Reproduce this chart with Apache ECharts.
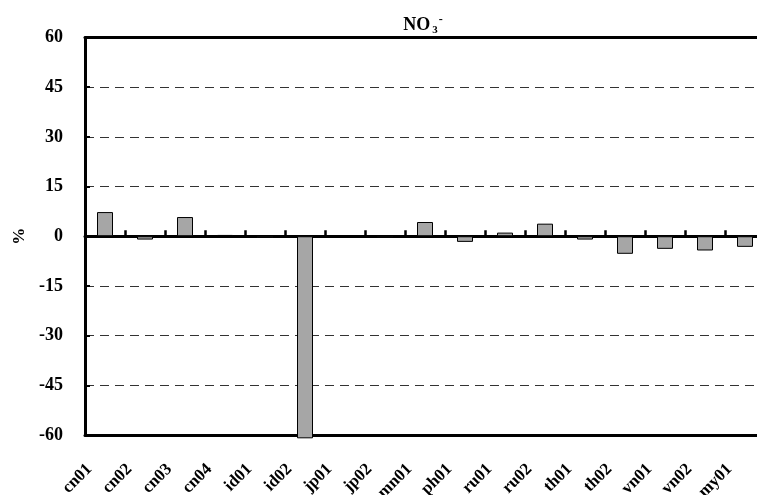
<!DOCTYPE html>
<html>
<head>
<meta charset="utf-8">
<script src="https://cdn.jsdelivr.net/npm/echarts@6/dist/echarts.min.js"></script>
<style>
  html, body { margin: 0; padding: 0; background: #fff; }
  #chart { width: 757px; height: 495px; }
</style>
</head>
<body>
<div id="chart"></div>
<script>
// Sites along the x axis
const sites = ['cn01', 'cn02', 'cn03', 'cn04', 'id01', 'id02', 'jp01', 'jp02', 'mn01',
               'ph01', 'ru01', 'ru02', 'th01', 'th02', 'vn01', 'vn02', 'my01'];
// NO3- deviation (%) per site
const deviation = [7.3, -1.0, 5.8, 0.4, -0.5, -61, 0, -0.4, 4.3,
                   -1.7, 1.1, 3.8, -1.0, -5.3, -3.8, -4.3, -3.2];
// Y-axis range and step
const yMin = -60, yMax = 60, yStep = 15;

const serif = '"Liberation Serif", "Times New Roman", serif';
const plot = { left: 85, top: 37.5, width: 680, height: 397.5 };
// pixel row of the zero line inside the plot
const zeroY = plot.top + plot.height * yMax / (yMax - yMin);
const tickLen = 6;

const chart = echarts.init(document.getElementById('chart'));

chart.setOption({
  animation: false,
  backgroundColor: '#ffffff',
  title: {
    text: 'NO{sub|3}{sup|-}',
    left: 418, top: 9, textAlign: 'center',
    textStyle: {
      fontFamily: serif, fontWeight: 'bold', fontSize: 18, color: '#000',
      rich: {
        sub: { fontFamily: serif, fontWeight: 'bold', fontSize: 11, color: '#000', verticalAlign: 'bottom', padding: [10, 1, 0, 2] },
        sup: { fontFamily: serif, fontWeight: 'bold', fontSize: 12, color: '#000', verticalAlign: 'top', padding: [0, 0, 10, 0] }
      }
    }
  },
  grid: [
    Object.assign({ containLabel: false, outerBoundsMode: 'none' }, plot),
    // thin band sitting on the zero line: carries the zero line and its ticks
    { left: plot.left, width: plot.width, top: zeroY - tickLen, height: tickLen, containLabel: false, outerBoundsMode: 'none' }
  ],
  xAxis: [
    {
      type: 'category', data: sites, position: 'bottom', gridIndex: 0,
      axisLine: { onZero: false, lineStyle: { color: '#000', width: 3 } },
      axisTick: { show: false },
      axisLabel: {
        rotate: 45, margin: 16, interval: 0, padding: [0, 22, 0, 0],
        fontFamily: serif, fontWeight: 'bold', fontSize: 17, color: '#000'
      },
      splitLine: { show: false }
    },
    {
      type: 'category', data: sites, position: 'top', gridIndex: 0,
      axisLine: { onZero: false, lineStyle: { color: '#000', width: 3 } },
      axisTick: { show: false },
      axisLabel: { show: false },
      splitLine: { show: false }
    },
    {
      type: 'category', data: sites, position: 'bottom', gridIndex: 1,
      axisLine: { onZero: false, lineStyle: { color: '#000', width: 3 } },
      axisTick: { show: true, inside: true, interval: 0, length: tickLen, lineStyle: { color: '#000', width: 2.5 } },
      axisLabel: { show: false },
      splitLine: { show: false }
    }
  ],
  yAxis: [
    {
      type: 'value', min: yMin, max: yMax, interval: yStep, gridIndex: 0,
      name: '%', nameLocation: 'middle', nameGap: 57, nameRotate: 90,
      nameTextStyle: { fontFamily: serif, fontWeight: 'bold', fontSize: 17, color: '#000' },
      axisLine: { show: true, onZero: false, lineStyle: { color: '#000', width: 3 } },
      axisTick: { show: true, inside: true, length: 5, lineStyle: { color: '#000', width: 2 } },
      axisLabel: { margin: 22, fontFamily: serif, fontWeight: 'bold', fontSize: 18, color: '#000' },
      splitLine: { show: true, lineStyle: { color: '#333', width: 1, type: [9, 6] } }
    },
    {
      type: 'value', min: 0, max: 1, gridIndex: 1, show: false
    }
  ],
  series: [{
    type: 'bar',
    data: deviation,
    xAxisIndex: 0, yAxisIndex: 0,
    barWidth: 16,
    clip: false,
    itemStyle: { color: '#a6a6a6', borderColor: '#000', borderWidth: 1 },
    z: 1
  }]
});
</script>
</body>
</html>
